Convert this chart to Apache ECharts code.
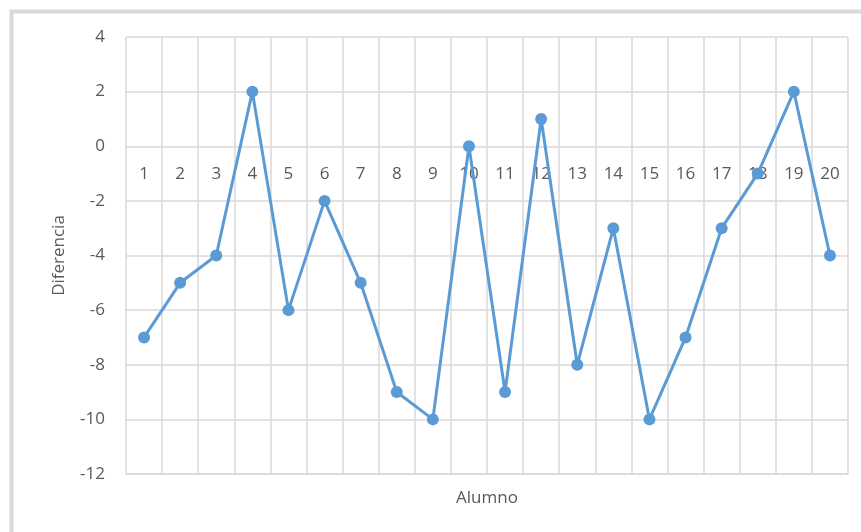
<!DOCTYPE html>
<html>
<head>
<meta charset="utf-8">
<script src="https://cdn.jsdelivr.net/npm/echarts@6/dist/echarts.min.js"></script>
<style>html,body{margin:0;padding:0;background:#fff;}#c{width:861px;height:532px;}</style>
</head>
<body>
<div id="c"></div>
<script>
var categories = ['1','2','3','4','5','6','7','8','9','10','11','12','13','14','15','16','17','18','19','20'];
var diferencia = [-7,-5,-4,2,-6,-2,-5,-9,-10,0,-9,1,-8,-3,-10,-7,-3,-1,2,-4];
var yTicks = {min:-12, max:4, interval:2};
var xName = 'Alumno';
var yName = 'Diferencia';

var W = 861, H = 532;
var grid = {left:126, right:13, top:37, bottom:58};
var gridH = H - grid.top - grid.bottom;
// distance from bottom of the plot up to the value 0, from the value scale
var zeroOffset = -gridH * (0 - yTicks.min) / (yTicks.max - yTicks.min);

var chart = echarts.init(document.getElementById('c'), null, {renderer:'canvas'});
var font = '"Open Sans", "Liberation Sans", sans-serif';
chart.setOption({
  animation:false,
  backgroundColor:'#fff',
  graphic:[{
    type:'rect', left:9, top:9, shape:{x:0,y:0,width:870,height:540},
    style:{fill:'none', stroke:'#d9d9d9', lineWidth:4}, silent:true
  }],
  grid:grid,
  xAxis:[{
    type:'category', data:categories, boundaryGap:true,
    position:'bottom', offset:zeroOffset,
    axisLine:{show:false, onZero:false},
    axisTick:{show:false},
    axisLabel:{color:'#595959', fontSize:17, fontFamily:font, margin:19},
    splitLine:{show:false}
  },{
    type:'category', data:categories, boundaryGap:true,
    position:'bottom',
    name:xName, nameLocation:'middle', nameGap:16,
    nameTextStyle:{color:'#595959', fontSize:17, fontFamily:font},
    axisLine:{show:true, onZero:false, lineStyle:{color:'#d9d9d9', width:1.5}},
    axisTick:{show:false},
    axisLabel:{show:false},
    splitLine:{show:true, lineStyle:{color:'#d9d9d9', width:1.5}}
  }],
  yAxis:{
    type:'value', min:yTicks.min, max:yTicks.max, interval:yTicks.interval,
    name:yName, nameLocation:'middle', nameGap:58, nameRotate:90,
    nameTextStyle:{color:'#595959', fontSize:17, fontFamily:font},
    axisLine:{show:false}, axisTick:{show:false},
    axisLabel:{color:'#595959', fontSize:17, fontFamily:font, margin:21},
    splitLine:{show:true, lineStyle:{color:'#d9d9d9', width:1.5}}
  },
  series:[{
    type:'line', data:diferencia, xAxisIndex:0,
    symbol:'circle', symbolSize:12,
    lineStyle:{color:'#5b9bd5', width:3},
    itemStyle:{color:'#5b9bd5'}
  }]
});
</script>
</body>
</html>
